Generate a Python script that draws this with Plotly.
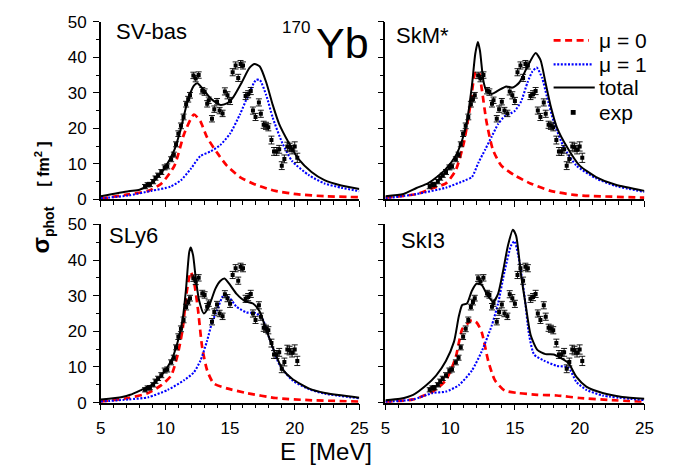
import plotly.graph_objects as go

# ---------------- experimental photoabsorption data (same in all panels) ----
exp_E = [8.42, 8.62, 8.80, 9.05, 9.23, 9.43, 9.68, 9.94, 10.14, 10.44, 10.65,
         10.82, 11.00, 11.20, 11.40, 11.60, 11.76, 11.90, 12.16, 12.34, 12.57,
         12.85, 13.03, 13.23, 13.35, 13.60, 13.78, 13.99, 14.19, 14.42, 14.60,
         14.80, 15.00, 15.20, 15.43, 15.63, 15.81, 16.00, 16.20, 16.40, 16.60,
         16.77, 16.97, 17.23, 17.38, 17.60, 17.78, 17.96, 18.20, 18.40, 18.60,
         18.80, 19.00, 19.20, 19.43, 19.60, 19.80, 20.00, 20.20]
exp_sigma = [3.6, 4.1, 4.2, 5.0, 6.0, 6.8, 7.7, 9.0, 9.3, 11.3, 12.6,
             15.5, 18.5, 20.7, 23.2, 26.8, 28.2, 29.3, 34.9, 34.0, 35.0,
             30.6, 30.2, 26.9, 27.9, 22.7, 25.4, 27.5, 25.0, 24.2, 30.4,
             29.3, 27.7, 35.8, 37.7, 34.2, 38.1, 37.7, 29.1, 29.6, 30.5,
             25.0, 23.2, 27.3, 24.1, 21.0, 20.7, 20.3, 16.7, 13.5, 13.5,
             14.1, 9.5, 11.4, 14.9, 14.6, 14.0, 14.9, 11.7]
exp_err = [0.6, 0.6, 0.6, 0.6, 0.6, 0.6, 0.7, 0.7, 0.7, 0.7, 0.7,
           0.7, 0.8, 0.8, 0.8, 0.8, 0.8, 0.8, 0.9, 0.9, 0.9,
           0.9, 0.9, 0.9, 0.9, 0.9, 0.9, 0.9, 0.9, 0.9, 1.0,
           1.0, 1.0, 1.0, 1.0, 1.0, 1.0, 1.0, 1.0, 1.0, 1.0,
           1.0, 1.0, 1.0, 1.0, 1.0, 1.0, 1.0, 1.1, 1.1, 1.1,
           1.1, 1.1, 1.1, 1.2, 1.2, 1.2, 1.3, 1.3]

# ---------------- SV-bas ----------------------------------------------------
svbas_tot_E = [5.0, 7.15, 8.0, 8.9, 9.9, 10.7, 11.2, 11.7, 12.2, 12.47, 13.0,
               13.5, 14.24, 14.75, 15.25, 15.9, 16.5, 16.9, 17.3, 17.8, 18.3,
               18.8, 19.56, 20.3, 21.3, 22.3, 23.6, 25.0]
svbas_tot = [0.9, 2.3, 2.7, 4.5, 8.6, 14.0, 20.0, 27.5, 32.0, 32.7, 30.6,
             28.4, 26.6, 27.0, 28.8, 32.9, 37.0, 38.1, 37.4, 32.9, 26.6,
             21.2, 15.8, 11.3, 7.7, 5.4, 3.9, 2.9]
svbas_m1_E = [5.0, 7.15, 8.9, 10.4, 11.2, 11.96, 12.7, 13.5, 14.24, 15.0, 15.76,
              16.4, 17.0, 17.3, 17.8, 18.3, 19.05, 19.8, 21.1, 22.3, 23.6, 25.0]
svbas_m1 = [0.3, 1.1, 2.4, 3.6, 5.4, 8.6, 12.2, 13.5, 15.3, 18.5, 23.9,
            29.3, 33.6, 33.6, 29.3, 23.0, 15.8, 10.8, 6.8, 4.5, 3.3, 2.3]
svbas_m0_E = [5.0, 7.15, 8.67, 9.7, 10.7, 11.45, 12.2, 12.7, 13.2, 14.0, 14.75,
              15.76, 17.0, 18.5, 20.3, 22.3, 25.0]
svbas_m0 = [0.2, 1.4, 2.4, 4.5, 9.5, 18.5, 23.9, 22.0, 17.6, 13.1, 9.5,
            6.3, 4.1, 2.4, 1.4, 0.9, 0.6]

# ---------------- SkM* ------------------------------------------------------
skm_tot_E = [5.0, 6.4, 7.4, 8.28, 8.9, 9.67, 10.42, 10.93, 11.3, 11.68, 11.94,
             12.14, 12.3, 12.57, 12.8, 13.2, 13.7, 14.33, 14.84, 15.34, 15.97,
             16.6, 16.98, 17.36, 17.74, 18.24, 19.0, 20.0, 21.27, 22.78, 25.0]
skm_tot = [0.9, 1.5, 3.2, 4.5, 6.1, 8.6, 12.2, 16.7, 22.0, 32.0, 41.0,
           44.3, 41.9, 33.3, 30.6, 29.7, 30.6, 31.8, 31.5, 32.9, 37.4,
           41.2, 39.2, 32.9, 26.6, 20.3, 14.9, 9.5, 6.3, 4.1, 2.4]
skm_m1_E = [5.0, 7.4, 9.67, 11.18, 11.68, 12.19, 12.7, 13.2, 13.7, 14.2, 14.96,
            15.47, 15.97, 16.35, 16.68, 17.1, 17.48, 17.99, 18.75, 19.75, 21.27,
            22.78, 25.0]
skm_m1 = [0.3, 1.5, 3.3, 5.4, 6.3, 10.4, 14.0, 17.6, 21.2, 23.4, 24.8,
          27.5, 32.9, 36.0, 37.1, 34.2, 28.8, 22.0, 14.9, 9.5, 5.9,
          3.8, 2.1]
skm_m0_E = [5.0, 7.4, 8.66, 9.67, 10.42, 11.05, 11.56, 11.94, 12.19, 12.44, 12.8,
            13.3, 13.95, 14.96, 16.2, 17.74, 19.75, 25.0]
skm_m0 = [0.5, 1.5, 3.2, 4.5, 8.1, 15.8, 26.6, 35.6, 36.0, 31.1, 22.0,
          14.0, 9.5, 6.8, 4.5, 2.4, 1.2, 0.5]

# ---------------- SLy6 ------------------------------------------------------
sly6_tot_E = [5.0, 6.65, 7.28, 8.16, 8.92, 9.68, 10.44, 10.95, 11.33, 11.58, 11.84,
              11.96, 12.14, 12.34, 12.6, 12.97, 13.35, 13.86, 14.24, 14.57, 15.0,
              15.5, 16.14, 16.77, 17.28, 17.78, 18.42, 19.05, 19.8, 21.08, 22.34, 25.0]
sly6_tot = [0.9, 1.6, 2.2, 3.6, 4.9, 7.6, 11.7, 17.1, 23.3, 31.4, 42.2,
            43.5, 41.3, 35.0, 28.7, 25.0, 26.9, 31.9, 34.1, 34.8, 33.0,
            30.5, 28.5, 27.8, 25.6, 20.6, 14.4, 9.4, 6.7, 4.0, 2.7, 1.4]
sly6_m1_E = [5.0, 7.15, 8.67, 10.19, 11.45, 12.2, 12.7, 13.2, 13.6, 14.0, 14.5,
             15.0, 15.5, 16.27, 17.0, 17.53, 18.04, 18.8, 19.8, 21.08, 22.34, 25.0]
sly6_m1 = [0.3, 0.9, 1.5, 3.6, 6.3, 8.5, 11.7, 17.1, 22.4, 26.0, 30.1,
           29.2, 26.9, 25.3, 25.1, 23.3, 18.0, 10.8, 6.3, 3.8, 2.5, 1.2]
sly6_m0_E = [5.0, 7.15, 8.67, 9.68, 10.44, 10.95, 11.33, 11.66, 11.96, 12.2, 12.52,
             12.85, 13.23, 13.73, 14.75, 16.27, 18.54, 21.08, 25.0]
sly6_m0 = [0.3, 1.3, 2.7, 4.9, 7.6, 13.5, 20.6, 31.4, 36.6, 34.1, 26.0,
           15.3, 9.0, 5.4, 4.0, 2.7, 1.3, 0.7, 0.3]

# ---------------- SkI3 ------------------------------------------------------
ski3_tot_E = [5.0, 6.13, 7.14, 8.15, 8.91, 9.67, 10.3, 10.67, 10.93, 11.3, 11.68,
              12.06, 12.44, 12.82, 13.32, 13.7, 14.08, 14.46, 14.84, 15.1, 15.47,
              15.85, 16.22, 16.73, 17.36, 17.99, 18.5, 19.12, 19.75, 20.51, 21.77,
              23.28, 25.0]
ski3_tot = [0.7, 1.1, 2.2, 4.9, 7.6, 11.7, 17.1, 24.2, 27.4, 27.8, 31.4,
            33.4, 33.0, 30.5, 28.3, 30.5, 36.8, 44.0, 48.5, 46.7, 35.9,
            26.9, 18.9, 14.8, 13.6, 13.5, 12.6, 11.2, 7.2, 4.5, 2.7,
            1.6, 1.1]
ski3_m1_E = [5.0, 7.14, 8.66, 9.67, 10.67, 11.68, 12.44, 13.2, 13.7, 14.2, 14.7,
             14.96, 15.26, 15.72, 16.1, 16.48, 17.23, 18.24, 19.12, 19.75, 20.51,
             21.77, 25.0]
ski3_m1 = [0.2, 0.9, 2.7, 3.1, 4.9, 9.0, 14.4, 21.5, 27.8, 36.8, 44.0,
           45.3, 41.3, 30.5, 18.9, 13.5, 11.8, 10.3, 9.9, 5.8, 3.6,
           2.0, 0.7]
ski3_m0_E = [5.0, 7.14, 8.66, 9.67, 10.42, 10.93, 11.3, 11.68, 12.06, 12.44, 12.94,
             13.45, 14.2, 15.2, 16.73, 18.24, 20.0, 22.5, 25.0]
ski3_m0 = [0.2, 0.9, 3.1, 6.3, 12.6, 20.6, 22.0, 23.2, 22.4, 19.7, 11.7,
           6.3, 3.4, 2.7, 2.2, 2.0, 1.3, 0.7, 0.2]

models = ["SV-bas", "SkM*", "SLy6", "SkI3"]
curves = {
    "SV-bas": (svbas_m0_E, svbas_m0, svbas_m1_E, svbas_m1, svbas_tot_E, svbas_tot),
    "SkM*": (skm_m0_E, skm_m0, skm_m1_E, skm_m1, skm_tot_E, skm_tot),
    "SLy6": (sly6_m0_E, sly6_m0, sly6_m1_E, sly6_m1, sly6_tot_E, sly6_tot),
    "SkI3": (ski3_m0_E, ski3_m0, ski3_m1_E, ski3_m1, ski3_tot_E, ski3_tot),
}
legend_labels = ["\u03bc = 0", "\u03bc = 1", "total", "exp"]

W, H = 688, 476
FONT = "Liberation Sans, Arial, sans-serif"
RED_LINE = dict(color="#ff0000", width=2.7, dash="7px,4.5px")
BLUE_LINE = dict(color="#0000ff", width=2.1, dash="2px,1.6px")
BLACK_LINE = dict(color="black", width=2)

# panel pixel boxes: (left, right, top, bottom)
boxes = {
    "SV-bas": (97.8, 361.7, 13.3, 198.3),
    "SkM*": (388.3, 652.7, 13.3, 198.3),
    "SLy6": (97.8, 361.7, 224.3, 410.0),
    "SkI3": (388.3, 652.7, 224.3, 410.0),
}

fig = go.Figure()

for i, name in enumerate(models, start=1):
    m0E, m0, m1E, m1, tE, tot = curves[name]
    xa = "x" if i == 1 else f"x{i}"
    ya = "y" if i == 1 else f"y{i}"
    fig.add_trace(go.Scatter(x=m0E, y=m0, mode="lines", name=legend_labels[0],
                             line=dict(RED_LINE, shape="spline", smoothing=0.6),
                             xaxis=xa, yaxis=ya, showlegend=False))
    fig.add_trace(go.Scatter(x=m1E, y=m1, mode="lines", name=legend_labels[1],
                             line=dict(BLUE_LINE, shape="spline", smoothing=0.6),
                             xaxis=xa, yaxis=ya, showlegend=False))
    fig.add_trace(go.Scatter(x=tE, y=tot, mode="lines", name=legend_labels[2],
                             line=dict(BLACK_LINE, shape="spline", smoothing=0.6),
                             xaxis=xa, yaxis=ya, showlegend=False))
    fig.add_trace(go.Scatter(x=exp_E, y=exp_sigma, mode="markers", name=legend_labels[3],
                             marker=dict(symbol="square", size=4, color="black"),
                             error_y=dict(type="data", array=exp_err, color="black",
                                          thickness=0.9, width=3),
                             xaxis=xa, yaxis=ya, showlegend=False))

    l, r, t, b = boxes[name]
    left_col = name in ("SV-bas", "SLy6")
    bottom_row = name in ("SLy6", "SkI3")
    axis_common = dict(showline=True, linecolor="black", linewidth=1.5,
                       ticks="outside", ticklen=6, tickwidth=1.3, tickcolor="black",
                       ticklabelstandoff=3, showgrid=False, zeroline=False,
                       tickfont=dict(family=FONT, size=17, color="black"))
    fig.layout[f"xaxis{'' if i == 1 else i}"] = dict(
        axis_common, domain=[l / W, r / W], anchor=ya, range=[5, 25],
        tick0=5, dtick=5, showticklabels=bottom_row,
        minor=dict(dtick=1, ticks="outside", ticklen=3.5, tickwidth=1.1, tickcolor="black"))
    fig.layout[f"yaxis{'' if i == 1 else i}"] = dict(
        axis_common, domain=[1 - b / H, 1 - t / H], anchor=xa, range=[0, 50],
        tick0=0, dtick=10, showticklabels=left_col,
        minor=dict(dtick=5, ticks="outside", ticklen=3.5, tickwidth=1.1, tickcolor="black"))


def paper(px, py):
    return px / W, 1 - py / H


annotations = []
shapes = []

# model names inside each panel
label_pos = {"SV-bas": (111, 23), "SkM*": (397, 28), "SLy6": (104, 236), "SkI3": (402, 241)}
for name, (px, py) in label_pos.items():
    x, y = paper(px, py)
    annotations.append(dict(text=name, x=x, y=y, xref="paper", yref="paper",
                            xanchor="left", yanchor="middle", showarrow=False,
                            font=dict(family=FONT, size=22, color="black")))

# nucleus label
x, y = paper(281, 19)
annotations.append(dict(text="170", x=x, y=y, xref="paper", yref="paper",
                        xanchor="left", yanchor="middle", showarrow=False,
                        font=dict(family=FONT, size=17, color="black")))
x, y = paper(315, 35)
annotations.append(dict(text="Yb", x=x, y=y, xref="paper", yref="paper",
                        xanchor="left", yanchor="middle", showarrow=False,
                        font=dict(family=FONT, size=43, color="black")))

# axis titles
x, y = paper(328, 461)
annotations.append(dict(text="E  [MeV]", x=x, y=y, xref="paper", yref="paper",
                        xanchor="center", yanchor="middle", showarrow=False,
                        font=dict(family=FONT, size=24, color="black")))
x, y = paper(38, 196)
annotations.append(dict(
    text="<b>\u03c3</b><sub><b><span style='font-size:14px'>phot</span></b></sub>"
         "   <b><span style='font-size:16px'>[ fm<sup>2</sup> ]</span></b>",
    x=x, y=y, xref="paper", yref="paper", textangle=-90,
    xanchor="center", yanchor="middle", showarrow=False,
    font=dict(family=FONT, size=24, color="black")))

# legend in the upper-right panel
legend_rows = [32.7, 57.7, 81.7, 107.7]
legend_ends = [596, 600, 602, None]
legend_styles = [RED_LINE, BLUE_LINE, BLACK_LINE, None]
for label, row, end, style in zip(legend_labels, legend_rows, legend_ends, legend_styles):
    x, y = paper(604, row)
    annotations.append(dict(text=label, x=x, y=y, xref="paper", yref="paper",
                            xanchor="left", yanchor="middle", showarrow=False,
                            font=dict(family=FONT, size=21, color="black")))
    if style is not None:
        x0, y0 = paper(560, row)
        x1, _ = paper(end, row)
        shapes.append(dict(type="line", xref="paper", yref="paper",
                           x0=x0, x1=x1, y0=y0, y1=y0, line=style))
    else:
        xa0, ya0 = paper(577.5, row - 2.5)
        xa1, ya1 = paper(582.5, row + 2.5)
        shapes.append(dict(type="rect", xref="paper", yref="paper",
                           x0=xa0, x1=xa1, y0=ya1, y1=ya0,
                           line=dict(width=0), fillcolor="black"))

fig.update_layout(
    width=W, height=H, margin=dict(l=0, r=0, t=0, b=0),
    paper_bgcolor="white", plot_bgcolor="white",
    annotations=annotations, shapes=shapes, showlegend=False,
)

fig.write_html("out.html")
